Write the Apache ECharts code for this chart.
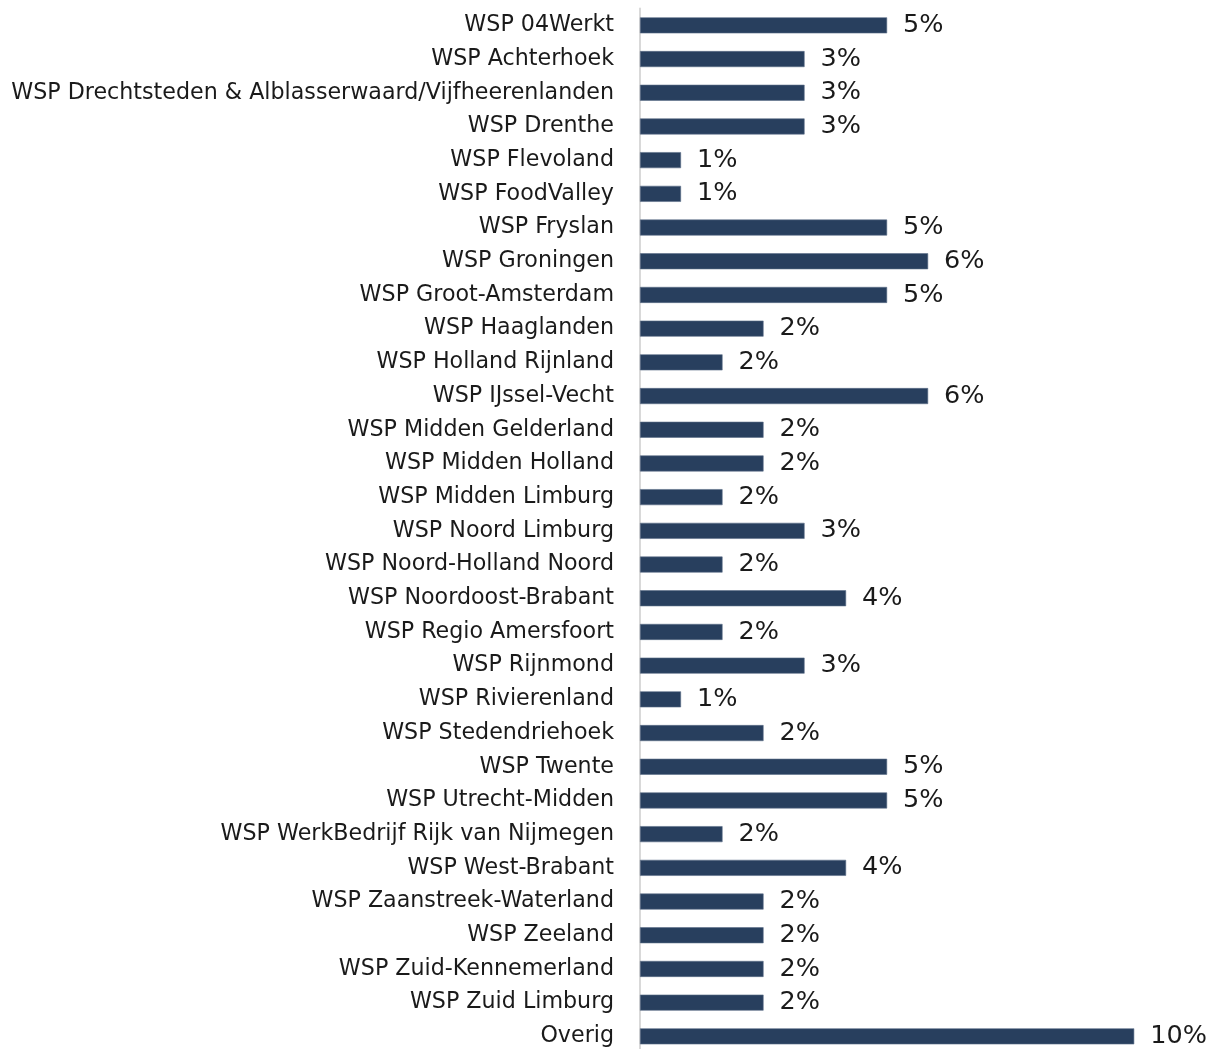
<!DOCTYPE html>
<html>
<head>
<meta charset="utf-8">
<script src="https://cdn.jsdelivr.net/npm/echarts@6/dist/echarts.min.js"></script>
<style>
html,body{margin:0;padding:0;background:#fff;overflow:hidden;}
#chart{width:1212px;height:1054px;}
</style>
</head>
<body>
<div id="chart"></div>
<script>
// categorieen, van boven naar beneden
var categories = [
	'WSP 04Werkt','WSP Achterhoek','WSP Drechtsteden & Alblasserwaard/Vijfheerenlanden','WSP Drenthe',
	'WSP Flevoland','WSP FoodValley','WSP Fryslan','WSP Groningen','WSP Groot-Amsterdam',
	'WSP Haaglanden','WSP Holland Rijnland','WSP IJssel-Vecht','WSP Midden Gelderland',
	'WSP Midden Holland','WSP Midden Limburg','WSP Noord Limburg','WSP Noord-Holland Noord',
	'WSP Noordoost-Brabant','WSP Regio Amersfoort','WSP Rijnmond','WSP Rivierenland',
	'WSP Stedendriehoek','WSP Twente','WSP Utrecht-Midden','WSP WerkBedrijf Rijk van Nijmegen',
	'WSP West-Brabant','WSP Zaanstreek-Waterland','WSP Zeeland','WSP Zuid-Kennemerland',
	'WSP Zuid Limburg','Overig'
];
// aandeel in procenten
var values = [
	4.88, 3.25, 3.25, 3.25,
	0.81, 0.81, 4.88, 5.69, 4.88,
	2.44, 1.63, 5.69, 2.44,
	2.44, 1.63, 3.25, 1.63,
	4.07, 1.63, 3.25, 0.81,
	2.44, 4.88, 4.88, 1.63,
	4.07, 2.44, 2.44, 2.44,
	2.44, 9.76
];

var font = '"DejaVu Sans", sans-serif';
var myChart = echarts.init(document.getElementById('chart'));
var option = {
	animation: false,
	grid: {left: 640, right: 15, top: 8.5, bottom: 0.8, containLabel: false},
	xAxis: {
		type: 'value',
		min: 0,
		max: 11,
		show: false
	},
	yAxis: {
		type: 'category',
		inverse: true,
		data: categories,
		axisTick: {show: false},
		axisLine: {show: true, lineStyle: {color: '#d9d9d9', width: 2}},
		axisLabel: {
			color: '#1a1a1a',
			fontFamily: font,
			fontSize: 22.2,
			margin: 26
		}
	},
	series: [{
		type: 'bar',
		data: values,
		barWidth: 16,
		itemStyle: {color: '#283f5e', borderColor: '#5d6f88', borderWidth: 0.6},
		label: {
			show: true,
			position: 'right',
			distance: 16,
			color: '#1a1a1a',
			fontFamily: font,
			fontSize: 25.5,
			formatter: function(p){ return Math.round(p.value) + '%'; }
		}
	}]
};
myChart.setOption(option);
</script>
</body>
</html>
